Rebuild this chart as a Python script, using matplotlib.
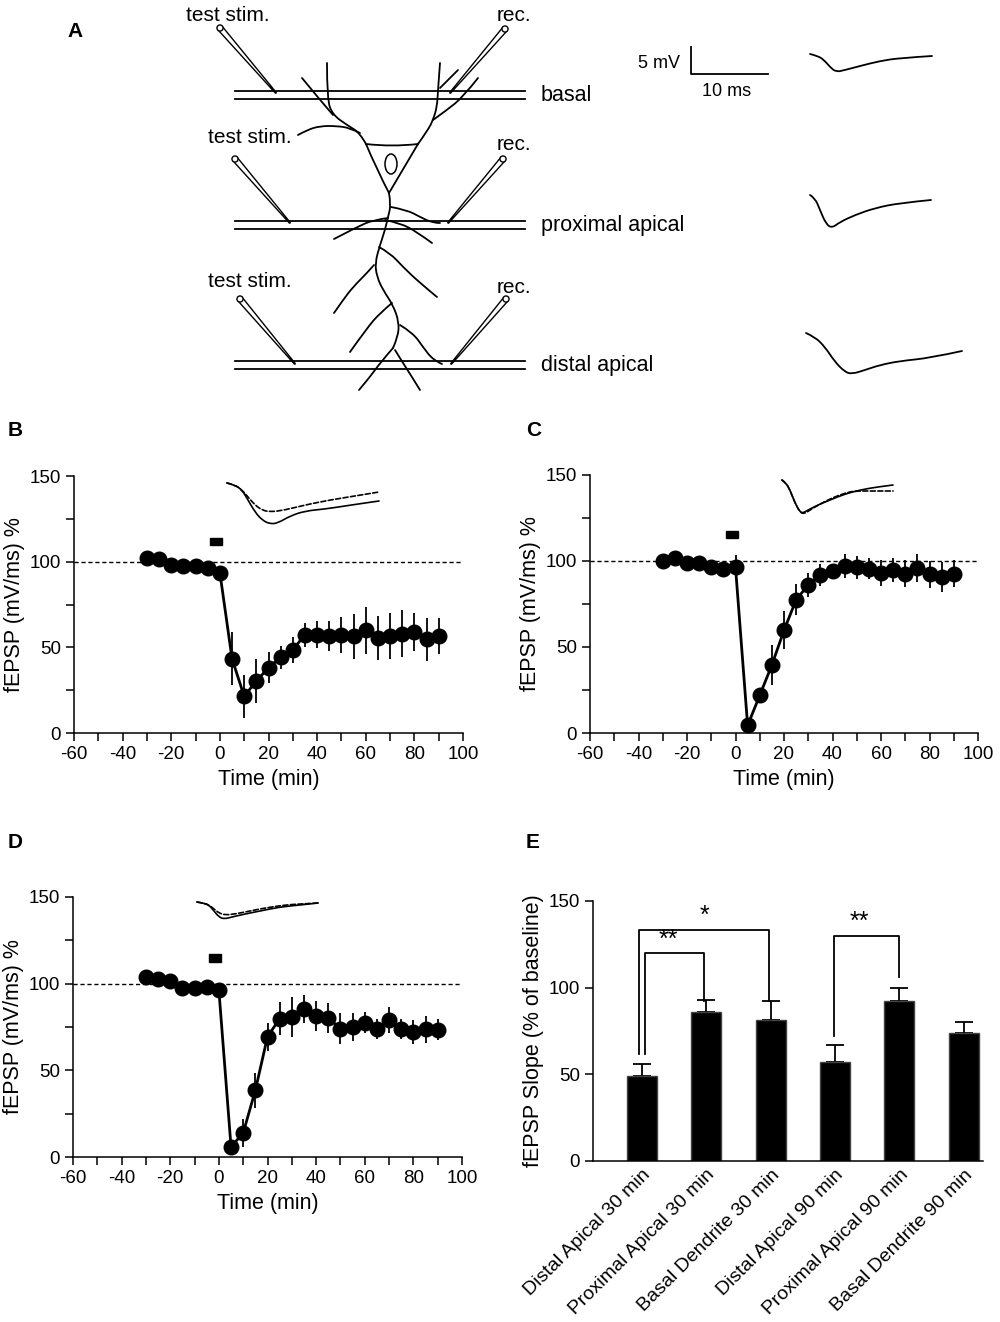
import numpy as np
import matplotlib
matplotlib.use("Agg")
import matplotlib.pyplot as plt
from matplotlib.path import Path
from matplotlib.patches import PathPatch, Polygon, Circle, Ellipse, Rectangle

plt.rcParams['font.family'] = ['Liberation Sans', 'DejaVu Sans']
plt.rcParams['axes.unicode_minus'] = False

# ---- time course data (min, % baseline) ----
times = [-30, -25, -20, -15, -10, -5, 0, 5, 10, 15, 20, 25, 30,
         35, 40, 45, 50, 55, 60, 65, 70, 75, 80, 85, 90]

basal_y = [102.1, 101.4, 97.9, 97.3, 97.7, 96.5, 93.6, 43.4, 21.4, 30.4, 38.1, 44.2, 48.6,
           57.4, 57.4, 56.6, 57.4, 56.4, 59.9, 55.6, 56.6, 58.0, 59.0, 54.7, 56.6]
basal_err = [2, 2, 2, 2, 2, 2, 2, 15.5, 12.6, 12.7, 9, 6.6, 7.5,
             7, 8, 8.7, 10.6, 13.3, 13.6, 13, 13.2, 13.6, 11, 12.4, 10.5]

prox_y = [99.6, 101.7, 98.6, 98.6, 96.3, 95.2, 96.3, 4.4, 21.9, 39.5, 59.6, 77.4, 85.9,
          91.9, 94.2, 97.1, 96.1, 95.4, 93.0, 94.4, 92.5, 95.9, 92.1, 90.7, 92.5]
prox_err = [2, 2, 2, 2, 2, 2, 7, 2, 2.5, 11.6, 11, 9, 7,
            6.5, 4, 7, 6.8, 6, 7.7, 7, 8, 8, 8, 8.7, 7.7]

dist_y = [103.7, 102.5, 101.5, 97.5, 97.3, 98.3, 96.3, 5.8, 13.9, 38.5, 69.4, 79.8, 80.9,
          85.5, 81.3, 80.3, 74.0, 74.8, 77.5, 73.8, 78.8, 73.8, 72.1, 73.6, 73.4]
dist_err = [2, 2, 2, 2, 2, 2, 2, 3.5, 8, 10, 8, 9.5, 11.5,
            8, 8.5, 8.5, 9, 8, 6, 6, 7.5, 6, 7, 8, 6]

stim_window = (-4, 1)

# ---- summary bars ----
bar_labels = ['Distal Apical 30 min', 'Proximal Apical 30 min', 'Basal Dendrite 30 min',
              'Distal Apical 90 min', 'Proximal Apical 90 min', 'Basal Dendrite 90 min']
bar_means = [48.8, 86.0, 81.3, 56.9, 92.3, 74.0]
bar_sem = [7.4, 7.1, 11.2, 10.0, 7.3, 6.4]

# ---- schematic traces (figure pixels) ----
trace_basal = [(810, 54), (818, 56), (824, 60), (830, 67), (836, 72), (845, 70), (860, 66),
               (880, 61), (900, 58), (932, 56)]
trace_prox = [(810, 195), (815, 198), (820, 210), (826, 224), (832, 228), (840, 222),
              (855, 215), (875, 208), (900, 203), (931, 200)]
trace_dist = [(806, 333), (815, 337), (825, 347), (835, 362), (845, 372), (852, 374),
              (865, 370), (880, 365), (900, 361), (930, 358), (962, 351)]

inset_b_post = [(227, 483), (235, 485), (242, 490), (248, 500), (255, 512), (262, 520),
                (270, 524), (278, 523), (290, 516), (305, 511), (325, 509), (345, 506),
                (365, 503), (379, 501)]
inset_b_pre = [(227, 483), (235, 485), (242, 490), (248, 497), (255, 505), (262, 510),
               (270, 512), (285, 510), (305, 505), (330, 500), (355, 496), (379, 492)]
inset_c_post = [(782, 480), (786, 483), (790, 490), (795, 503), (800, 512), (803, 513),
                (808, 510), (818, 505), (830, 500), (845, 494), (860, 490), (877, 487),
                (893, 485)]
inset_c_pre = [(782, 480), (786, 483), (790, 490), (795, 503), (800, 512), (804, 514),
               (810, 510), (820, 504), (832, 498), (845, 493), (855, 491), (870, 491),
               (893, 491)]
inset_d_post = [(197, 902), (203, 903), (209, 905), (214, 911), (219, 917), (224, 919),
                (232, 917), (245, 914), (260, 911), (280, 907), (300, 905), (318, 903)]
inset_d_pre = [(197, 902), (203, 903), (209, 905), (214, 909), (219, 913), (225, 915),
               (235, 914), (250, 911), (265, 908), (285, 905), (300, 904), (318, 903)]

# ---- neuron sketch (figure pixels) ----
neuron_branches = [
    [(366, 144), (360, 133), (347, 125), (333, 115), (327, 100), (327, 63)],
    [(333, 115), (320, 100), (302, 78)],
    [(360, 133), (350, 128), (337, 126), (320, 126), (307, 130), (298, 135)],
    [(418, 144), (428, 130), (433, 120), (437, 107), (438, 90), (440, 63)],
    [(433, 120), (447, 110), (463, 97), (478, 78)],
    [(440, 88), (458, 70)],
    [(389, 193), (391, 205), (388, 217), (385, 230), (380, 245), (375, 263),
     (377, 277), (383, 290), (393, 305), (399, 322), (398, 337), (393, 348)],
    [(393, 348), (380, 363), (370, 377), (359, 390)],
    [(395, 350), (403, 363), (412, 377), (420, 390)],
    [(391, 207), (407, 210), (420, 217), (433, 223), (440, 223)],
    [(388, 218), (373, 220), (357, 227), (334, 239)],
    [(385, 220), (400, 223), (417, 232), (432, 243)],
    [(379, 247), (390, 253), (403, 267), (420, 283), (437, 297)],
    [(374, 265), (367, 273), (353, 287), (343, 300), (334, 313)],
    [(392, 303), (380, 313), (367, 328), (350, 352)],
    [(400, 325), (413, 333), (423, 347), (433, 360), (442, 364)],
]
soma = [(366, 144), (392, 147), (418, 144), (389, 193), (377, 170), (366, 144)]
layer_rows = [91, 221, 361]
layer_names = ['basal', 'proximal apical', 'distal apical']
stim_pipettes = [((220, 28), (276, 93)), ((235, 159), (290, 223)), ((240, 299), (295, 364))]
rec_pipettes = [((505, 29), (450, 93)), ((503, 159), (448, 223)), ((506, 299), (451, 364))]


def smooth_path(pts):
    pts = np.asarray(pts, dtype=float)
    verts = [pts[0]]
    codes = [Path.MOVETO]
    if len(pts) == 2:
        verts.append(pts[1])
        codes.append(Path.LINETO)
        return Path(verts, codes)
    for i in range(1, len(pts) - 1):
        end = (pts[i] + pts[i + 1]) / 2 if i < len(pts) - 2 else pts[i + 1]
        verts += [pts[i], end]
        codes += [Path.CURVE3, Path.CURVE3]
    return Path(verts, codes)


def draw_curve(ax, pts, lw=1.3, ls='-'):
    ax.add_patch(PathPatch(smooth_path(pts), fill=False, lw=lw, ls=ls,
                           edgecolor='black', capstyle='round'))


def pipette(ax, top, tip, w=5.5):
    top = np.array(top, float)
    tip = np.array(tip, float)
    d = (tip - top) / np.hypot(*(tip - top))
    n = np.array([-d[1], d[0]])
    poly = [top + n * w / 2, tip + n * 0.5, tip - n * 0.5, top - n * w / 2]
    ax.add_patch(Polygon(poly, closed=True, facecolor='white', edgecolor='black', lw=1.0))
    ax.add_patch(Circle(top, w / 2 + 0.3, facecolor='white', edgecolor='black', lw=1.0))


fig = plt.figure(figsize=(10, 13.22), dpi=100)


def style_time_axis(ax):
    for s in ['top', 'right']:
        ax.spines[s].set_visible(False)
    for s in ['left', 'bottom']:
        ax.spines[s].set_linewidth(1.1)
    ax.set_xlim(-60, 100)
    ax.set_ylim(0, 150)
    ax.set_xticks(np.arange(-60, 101, 20))
    ax.set_xticks(np.arange(-50, 100, 20), minor=True)
    ax.set_yticks([0, 50, 100, 150])
    ax.set_yticks([25, 75, 125], minor=True)
    ax.tick_params(which='both', direction='out', length=6, width=1.1, labelsize=13.5)
    ax.set_xlabel('Time (min)', fontsize=15.5, labelpad=4)
    ax.set_ylabel('fEPSP (mV/ms) %', fontsize=15.5, labelpad=3)
    ax.patch.set_alpha(0)


def time_course(rect, y, err, stim_y):
    ax = fig.add_axes(rect)
    style_time_axis(ax)
    ax.axhline(100, color='black', lw=1.0, ls=(0, (3, 2)), zorder=1)
    ax.errorbar(times, y, yerr=err, fmt='none', ecolor='black', elinewidth=1.3,
                capsize=0, zorder=2)
    ax.plot(times, y, color='black', lw=2.0, marker='o', ms=10.5, zorder=3)
    ax.add_patch(Rectangle((stim_window[0], stim_y), stim_window[1] - stim_window[0], 4.5,
                           color='black', zorder=3))
    return ax


time_course([0.074, 0.4455, 0.389, 0.1944], basal_y, basal_err, 109.5)
time_course([0.590, 0.4455, 0.388, 0.1955], prox_y, prox_err, 113.0)
time_course([0.073, 0.1248, 0.389, 0.1967], dist_y, dist_err, 112.5)

# ---- panel E ----
axe = fig.add_axes([0.593, 0.1218, 0.390, 0.1967])
xpos = np.arange(len(bar_means))
axe.bar(xpos, bar_means, width=0.47, color='black', edgecolor='#444444', lw=1.0, zorder=2)
axe.errorbar(xpos, bar_means, yerr=[np.zeros(len(bar_sem)), bar_sem], fmt='none',
             ecolor='black', elinewidth=1.3, capsize=6.5, capthick=1.3, zorder=1)
axe.set_xlim(-0.76, 5.3)
axe.set_ylim(0, 150)
axe.set_yticks([0, 50, 100, 150])
axe.set_xticks(xpos)
axe.set_xticklabels(bar_labels, rotation=45, ha='right', va='top', rotation_mode='anchor',
                    fontsize=14)
axe.tick_params(axis='x', length=0, pad=4)
axe.tick_params(axis='y', direction='out', length=6, width=1.1, labelsize=13.5)
for s in ['top', 'right']:
    axe.spines[s].set_visible(False)
for s in ['left', 'bottom']:
    axe.spines[s].set_linewidth(1.1)
axe.set_ylabel('fEPSP Slope (% of baseline)', fontsize=15.5, labelpad=3)

# significance brackets: (x_left, x_right, y_left_bottom, y_right_bottom, y_top, label)
brackets = [(0.05, 0.97, 61.7, 92.3, 119.8, '**'),
            (-0.05, 1.98, 61.7, 92.3, 133.3, '*'),
            (2.98, 3.99, 72.1, 106.0, 130.0, '**')]
for xl, xr, yl, yr, yt, lab in brackets:
    axe.plot([xl, xl, xr, xr], [yl, yt, yt, yr], color='black', lw=1.3, zorder=3)
    axe.text((xl + xr) / 2 - (0.1 if lab == '**' else 0), yt + 1, lab,
             ha='center', va='bottom', fontsize=18)

# ---- overlay in pixel coordinates for panel A and insets ----
ov = fig.add_axes([0, 0, 1, 1], zorder=10)
ov.set_xlim(0, 1000)
ov.set_ylim(1322, 0)
ov.axis('off')
ov.patch.set_alpha(0)

for y0, name in zip(layer_rows, layer_names):
    ov.plot([235, 525], [y0, y0], color='black', lw=1.3)
    ov.plot([235, 525], [y0 + 7.5, y0 + 7.5], color='black', lw=1.3)
    ov.text(541, y0 + 10, name, fontsize=15.5, ha='left', va='baseline')

for br in neuron_branches:
    draw_curve(ov, br)
draw_curve(ov, soma[0:3])
ov.plot([soma[2][0], soma[3][0]], [soma[2][1], soma[3][1]], color='black', lw=1.3)
draw_curve(ov, soma[3:6])
ov.add_patch(Ellipse((391, 164), 12, 20, fill=False, lw=1.1, edgecolor='black'))

for (top, tip), tx in zip(stim_pipettes, [(186, 21), (208, 143), (208, 287)]):
    pipette(ov, top, tip)
    ov.text(tx[0], tx[1], 'test stim.', fontsize=15, ha='left', va='baseline')
for (top, tip), ty in zip(rec_pipettes, [21, 150, 293]):
    pipette(ov, top, tip)
    ov.text(497, ty, 'rec.', fontsize=15, ha='left', va='baseline')

# scale bar
ov.plot([691, 691, 768], [47, 73.5, 73.5], color='black', lw=1.3)
ov.text(680, 68, '5 mV', fontsize=13, ha='right', va='baseline')
ov.text(727, 96.5, '10 ms', fontsize=13, ha='center', va='baseline')

for tr in [trace_basal, trace_prox, trace_dist]:
    draw_curve(ov, tr, lw=1.3)

for post, pre in [(inset_b_post, inset_b_pre), (inset_c_post, inset_c_pre),
                  (inset_d_post, inset_d_pre)]:
    draw_curve(ov, post, lw=1.2)
    draw_curve(ov, pre, lw=1.2, ls=(0, (3, 1.5)))

for lab, x, y in [('A', 67, 37), ('B', 8, 436), ('C', 526, 436), ('D', 8, 848), ('E', 526, 848)]:
    ov.text(x, y, lab, fontsize=15, fontweight='bold', ha='left', va='baseline')

fig.savefig('out.png', dpi=100)
